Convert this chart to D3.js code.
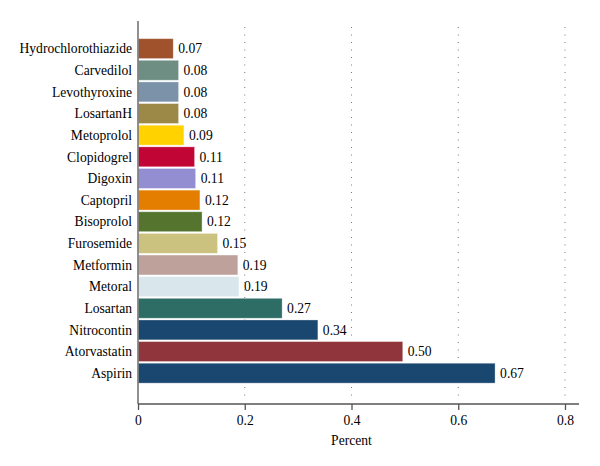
<!DOCTYPE html>
<html><head><meta charset="utf-8">
<script src="https://cdn.jsdelivr.net/npm/d3@7"></script>
<style>body{margin:0;background:#fff}svg{display:block}</style>
</head><body>
<svg id="c" width="600" height="466"></svg>
<script>
const categories = ["Hydrochlorothiazide","Carvedilol","Levothyroxine","LosartanH","Metoprolol","Clopidogrel","Digoxin","Captopril","Bisoprolol","Furosemide","Metformin","Metoral","Losartan","Nitrocontin","Atorvastatin","Aspirin"];
const values = [0.066,0.076,0.076,0.076,0.086,0.106,0.108,0.116,0.12,0.149,0.187,0.189,0.27,0.337,0.496,0.669];
const colors = ["#a0522d","#6e8e84","#7b92a8","#9c8847","#ffd200","#c10534","#938dd2","#e37e00","#55752f","#cac27e","#bfa19c","#d9e6eb","#2d6d66","#1a476f","#90353b","#1a476f"];
const xTicks = [0,0.2,0.4,0.6,0.8];
const xTickLabels = ["0","0.2","0.4","0.6","0.8"];
const xTitle = "Percent";

const svg = d3.select("#c");
const font = "'Liberation Serif','DejaVu Serif',serif";
const fs = 13.6;
const x = d3.scaleLinear().domain([0,0.8]).range([138,565]);
const y = d3.scaleBand().domain(categories).range([37.8,384]).paddingInner(0.08).paddingOuter(0.04);

// gridlines
svg.append("g").selectAll("line").data(xTicks.filter(d=>d>0)).join("line")
  .attr("x1",d=>x(d)).attr("x2",d=>x(d)).attr("y1",27).attr("y2",402)
  .attr("stroke","#777").attr("stroke-width",1).attr("stroke-dasharray","1,6.5");

// bars
svg.append("g").selectAll("rect").data(categories).join("rect")
  .attr("x",x(0)+0.5).attr("y",d=>y(d))
  .attr("width",(d,i)=>x(values[i])-x(0)-0.5).attr("height",y.bandwidth())
  .attr("fill",(d,i)=>colors[i]).attr("stroke","#fff").attr("stroke-opacity",0.4).attr("stroke-width",0.8);

// value labels
const fmt = d3.format(".2f");
svg.append("g").selectAll("text").data(categories).join("text")
  .attr("x",(d,i)=>x(values[i])+5).attr("y",d=>y(d)+y.bandwidth()/2)
  .attr("dy","0.35em").attr("font-family",font).attr("font-size",fs).attr("fill","#000")
  .text((d,i)=>fmt(values[i]));

// category labels
svg.append("g").selectAll("text").data(categories).join("text")
  .attr("x",132).attr("y",d=>y(d)+y.bandwidth()/2)
  .attr("dy","0.35em").attr("text-anchor","end").attr("font-family",font).attr("font-size",fs).attr("fill","#000")
  .text(d=>d);

// axes lines
svg.append("line").attr("x1",138).attr("x2",138).attr("y1",21).attr("y2",404).attr("stroke","#555").attr("stroke-width",1.3);
const xAxis = d3.axisBottom(x).tickValues(xTicks).tickFormat((d,i)=>xTickLabels[i]).tickSize(6).tickSizeOuter(0);
const gx = svg.append("g").attr("transform","translate(0,404)").call(xAxis);
gx.select(".domain").remove();
gx.selectAll(".tick line").attr("stroke","#555").attr("stroke-width",1.3);
gx.selectAll(".tick text").attr("font-family",font).attr("font-size",fs).attr("fill","#000").attr("dy","0.9em");
svg.append("line").attr("x1",138).attr("x2",579).attr("y1",404).attr("y2",404).attr("stroke","#555").attr("stroke-width",1.3);

svg.append("text").attr("x",351.5).attr("y",445).attr("text-anchor","middle")
  .attr("font-family",font).attr("font-size",fs).attr("fill","#000").text(xTitle);
</script>
</body></html>
